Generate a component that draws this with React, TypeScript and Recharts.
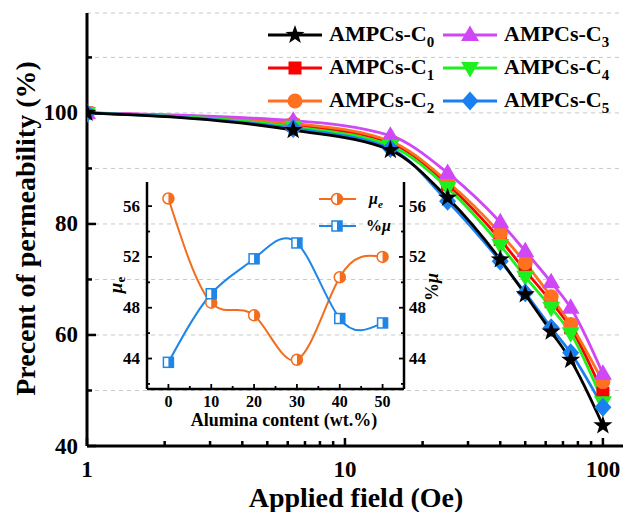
import React from 'react';
import { LineChart, Line, XAxis, YAxis, CartesianGrid } from 'recharts';

// page has an 8px default margin, drop it so the chart sits at 0,0
document.body.style.margin = '0';

const SERIF = '"Liberation Serif", "Times New Roman", serif';

// main chart: permeability vs applied field
const fields = [1, 6.3, 15, 25, 40, 50, 63, 75, 100];
const c0 = [100, 96.9, 93.3, 84.7, 73.6, 67.3, 60.6, 55.5, 43.7];
const c1 = [100, 97.8, 94.6, 87.1, 77.2, 71.6, 66.0, 61.3, 49.5];
const c2 = [100, 98.1, 94.9, 87.6, 78.3, 73.0, 66.9, 61.9, 51.6];
const c3 = [100, 98.6, 95.9, 89.2, 80.3, 75.1, 69.5, 64.9, 53.0];
const c4 = [100, 97.5, 94.1, 86.5, 76.2, 70.5, 64.9, 60.3, 47.9];
const c5 = [100, 97.2, 93.6, 84.1, 73.3, 67.6, 61.3, 56.8, 47.0];

const xTicks = [1, 2, 3, 4, 5, 6, 7, 8, 9, 10, 20, 30, 40, 50, 60, 70, 80, 90, 100];
const xMajor = [1, 10, 100];
const yTicks = [40, 50, 60, 70, 80, 90, 100, 110];
const yMajor = [40, 60, 80, 100];

// inset: mu_e and %mu vs alumina content
const alumina = [0, 10, 20, 30, 40, 50];
const muE = [56.6, 48.4, 47.4, 43.9, 50.4, 52.0];
const pctMu = [43.7, 49.1, 51.85, 53.1, 47.15, 46.8];
const insetXTicks = [0, 5, 10, 15, 20, 25, 30, 35, 40, 45, 50];
const insetYTicks = [42, 44, 46, 48, 50, 52, 54, 56];
const insetYMajor = [44, 48, 52, 56];

const series = [
  { key: 'c0', sub: '0', color: '#000000', shape: 'star', values: c0 },
  { key: 'c1', sub: '1', color: '#ff0000', shape: 'square', values: c1 },
  { key: 'c2', sub: '2', color: '#ff7020', shape: 'circle', values: c2 },
  { key: 'c3', sub: '3', color: '#d047f5', shape: 'triUp', values: c3 },
  { key: 'c4', sub: '4', color: '#1ef01e', shape: 'triDown', values: c4 },
  { key: 'c5', sub: '5', color: '#1a80f0', shape: 'diamond', values: c5 },
];

const mainRows = fields.map((f, i) => {
  const row: any = { f };
  series.forEach((s) => (row[s.key] = s.values[i]));
  return row;
});

const insetRows = alumina.map((a, i) => ({ a, muE: muE[i], pctMu: pctMu[i] }));

const ORANGE = '#f26d1d';
const BLUE = '#1f86e6';

function Marker({ shape, cx, cy, color }: any) {
  switch (shape) {
    case 'star': {
      const pts: string[] = [];
      for (let i = 0; i < 10; i++) {
        const r = i % 2 === 0 ? 10 : 4;
        const a = -Math.PI / 2 + (i * Math.PI) / 5;
        pts.push(`${cx + r * Math.cos(a)},${cy + r * Math.sin(a)}`);
      }
      return <polygon points={pts.join(' ')} fill={color} />;
    }
    case 'square':
      return <rect x={cx - 6.5} y={cy - 6.5} width={13} height={13} fill={color} />;
    case 'circle':
      return <circle cx={cx} cy={cy} r={7.5} fill={color} />;
    case 'triUp':
      return <polygon points={`${cx},${cy - 9.5} ${cx + 9},${cy + 6} ${cx - 9},${cy + 6}`} fill={color} />;
    case 'triDown':
      return <polygon points={`${cx},${cy + 9.5} ${cx + 9},${cy - 6} ${cx - 9},${cy - 6}`} fill={color} />;
    case 'diamond':
      return <polygon points={`${cx},${cy - 9.5} ${cx + 8.5},${cy} ${cx},${cy + 9.5} ${cx - 8.5},${cy}`} fill={color} />;
    case 'halfCircle':
      return (
        <g>
          <circle cx={cx} cy={cy} r={5.5} fill="#fff" stroke={color} strokeWidth={1.5} />
          <path d={`M${cx},${cy - 5.5} A5.5,5.5 0 0 1 ${cx},${cy + 5.5} Z`} fill={color} />
        </g>
      );
    case 'halfSquare':
      return (
        <g>
          <rect x={cx - 5} y={cy - 5} width={10} height={10} fill="#fff" stroke={color} strokeWidth={1.5} />
          <rect x={cx} y={cy - 5} width={5} height={10} fill={color} />
        </g>
      );
    default:
      return null;
  }
}

const MainXTick = ({ x, y, payload }: any) => {
  const major = xMajor.includes(payload.value);
  return (
    <g>
      <line x1={x} x2={x} y1={y} y2={y - (major ? 8 : 5)} stroke="#000" strokeWidth={2.5} />
      {major && (
        <text x={x} y={y + 23} textAnchor="middle" dominantBaseline="central" fontFamily={SERIF} fontWeight="bold" fontSize={23} fill="#000">
          {payload.value}
        </text>
      )}
    </g>
  );
};

const MainYTick = ({ x, y, payload }: any) => {
  const major = yMajor.includes(payload.value);
  return (
    <g>
      <line x1={x} x2={x + (major ? 9 : 5)} y1={y} y2={y} stroke="#000" strokeWidth={2.5} />
      {major && (
        <text x={x - 9} y={y} textAnchor="end" dominantBaseline="central" fontFamily={SERIF} fontWeight="bold" fontSize={23} fill="#000">
          {payload.value}
        </text>
      )}
    </g>
  );
};

const InsetXTick = ({ x, y, payload }: any) => {
  const major = payload.value % 10 === 0;
  return (
    <g>
      <line x1={x} x2={x} y1={y} y2={y - (major ? 5 : 3)} stroke="#000" strokeWidth={1.8} />
      {major && (
        <text x={x} y={y + 12} textAnchor="middle" dominantBaseline="central" fontFamily={SERIF} fontWeight="bold" fontSize={16} fill="#000">
          {payload.value}
        </text>
      )}
    </g>
  );
};

const InsetYTick = ({ x, y, payload, side }: any) => {
  const major = insetYMajor.includes(payload.value);
  const dir = side === 'left' ? 1 : -1;
  return (
    <g>
      <line x1={x} x2={x + dir * (major ? 5 : 3)} y1={y} y2={y} stroke="#000" strokeWidth={1.8} />
      {major && (
        <text
          x={side === 'left' ? x - 7 : x + 5}
          y={y}
          textAnchor={side === 'left' ? 'end' : 'start'}
          dominantBaseline="central"
          fontFamily={SERIF}
          fontWeight="bold"
          fontSize={17}
          fill="#000"
        >
          {payload.value}
        </text>
      )}
    </g>
  );
};

const LegendItem = ({ s, left, top }: any) => (
  <div style={{ position: 'absolute', left, top: top - 14, height: 28, display: 'flex', alignItems: 'center' }}>
    <svg width={56} height={28} style={{ display: 'block' }}>
      <line x1={1} x2={55} y1={14} y2={14} stroke={s.color} strokeWidth={3} />
      <Marker shape={s.shape} cx={28} cy={14} color={s.color} />
    </svg>
    <span style={{ marginLeft: 6, fontFamily: SERIF, fontWeight: 'bold', fontSize: 22, lineHeight: '28px', whiteSpace: 'nowrap' }}>
      AMPCs-C<span style={{ fontSize: 15, position: 'relative', top: 6 }}>{s.sub}</span>
    </span>
  </div>
);

export default function App() {
  const legendPos = [
    { left: 267, top: 35 },
    { left: 267, top: 68 },
    { left: 267, top: 101 },
    { left: 442, top: 35 },
    { left: 442, top: 68 },
    { left: 442, top: 101 },
  ];
  // draw C0 last so the black curve stays on top
  const drawOrder = [1, 2, 3, 4, 5, 0];

  return (
    <div style={{ position: 'relative', width: 623, height: 512, overflow: 'hidden', background: '#fff' }}>
      <LineChart width={630} height={512} data={mainRows} margin={{ top: 13, right: 3, bottom: 0, left: 0 }}>
        <CartesianGrid vertical={false} stroke="#c8c8c8" strokeDasharray="4 4" />
        <XAxis
          dataKey="f"
          type="number"
          scale="log"
          domain={[1, 124]}
          allowDataOverflow
          ticks={xTicks}
          interval={0}
          tickSize={0}
          tickMargin={0}
          tickLine={false}
          tick={<MainXTick />}
          height={66}
          axisLine={{ stroke: '#000', strokeWidth: 3 }}
          label={({ viewBox }: any) => (
            <text x={viewBox.x + 269} y={viewBox.y + 51} textAnchor="middle" dominantBaseline="central" fontFamily={SERIF} fontWeight="bold" fontSize={28} fill="#000">
              Applied field (Oe)
            </text>
          )}
        />
        <XAxis xAxisId="top" orientation="top" type="number" domain={[1, 124]} height={0} tick={false} tickLine={false} axisLine={{ stroke: '#000', strokeWidth: 3 }} />
        <YAxis
          type="number"
          domain={[40, 118]}
          allowDataOverflow
          ticks={yTicks}
          interval={0}
          tickSize={0}
          tickMargin={0}
          tickLine={false}
          tick={<MainYTick />}
          width={87}
          axisLine={{ stroke: '#000', strokeWidth: 3 }}
          label={({ viewBox }: any) => {
            const cx = 25;
            const cy = viewBox.y + viewBox.height / 2 - 1;
            return (
              <text x={cx} y={cy} transform={`rotate(-90, ${cx}, ${cy})`} textAnchor="middle" dominantBaseline="central" fontFamily={SERIF} fontWeight="bold" fontSize={28} fill="#000">
                Precent of permeability (%)
              </text>
            );
          }}
        />
        {drawOrder.map((i) => {
          const s = series[i];
          return (
            <Line
              key={s.key}
              dataKey={s.key}
              type="monotone"
              stroke={s.color}
              strokeWidth={2.8}
              isAnimationActive={false}
              dot={(p: any) => <Marker key={`${s.key}-${p.index}`} shape={s.shape} cx={p.cx} cy={p.cy} color={s.color} />}
              activeDot={false}
            />
          );
        })}
      </LineChart>

      {series.map((s, i) => (
        <LegendItem key={s.key} s={s} left={legendPos[i].left} top={legendPos[i].top} />
      ))}

      {/* inset */}
      <div style={{ position: 'absolute', left: 95, top: 175 }}>
        <LineChart width={365} height={255} data={insetRows} margin={{ top: 7, right: 0, bottom: 0, left: 0 }}>
          <XAxis
            dataKey="a"
            type="number"
            domain={[-5, 55]}
            ticks={insetXTicks}
            interval={0}
            tickSize={0}
            tickMargin={0}
            tickLine={false}
            tick={<InsetXTick />}
            height={41}
            axisLine={{ stroke: '#000', strokeWidth: 2.5 }}
            label={({ viewBox }: any) => (
              <text x={viewBox.x + 137} y={viewBox.y + 31} textAnchor="middle" dominantBaseline="central" fontFamily={SERIF} fontWeight="bold" fontSize={18} fill="#000">
                Alumina content (wt.%)
              </text>
            )}
          />
          <XAxis xAxisId="top" orientation="top" type="number" domain={[-5, 55]} height={0} tick={false} tickLine={false} axisLine={{ stroke: '#000', strokeWidth: 2.5 }} />
          <YAxis
            yAxisId="left"
            type="number"
            domain={[41.6, 57.9]}
            allowDataOverflow
            ticks={insetYTicks}
            interval={0}
            tickSize={0}
            tickMargin={0}
            tickLine={false}
            tick={<InsetYTick side="left" />}
            width={52}
            axisLine={{ stroke: '#000', strokeWidth: 2.5 }}
            label={({ viewBox }: any) => {
              const cx = 20;
              const cy = viewBox.y + 103;
              return (
                <text x={cx} y={cy} transform={`rotate(-90, ${cx}, ${cy})`} textAnchor="middle" dominantBaseline="central" fontFamily={SERIF} fontWeight="bold" fontSize={19} fill="#000">
                  <tspan fontStyle="italic">μ</tspan>
                  <tspan fontSize={13} dy={5}>e</tspan>
                </text>
              );
            }}
          />
          <YAxis
            yAxisId="right"
            orientation="right"
            type="number"
            domain={[41.6, 57.9]}
            allowDataOverflow
            ticks={insetYTicks}
            interval={0}
            tickSize={0}
            tickMargin={0}
            tickLine={false}
            tick={<InsetYTick side="right" />}
            width={56}
            axisLine={{ stroke: '#000', strokeWidth: 2.5 }}
            label={({ viewBox }: any) => {
              const cx = viewBox.x + 28;
              const cy = viewBox.y + 105;
              return (
                <text x={cx} y={cy} transform={`rotate(-90, ${cx}, ${cy})`} textAnchor="middle" dominantBaseline="central" fontFamily={SERIF} fontWeight="bold" fontSize={18} fill="#000">
                  %<tspan fontStyle="italic">μ</tspan>
                </text>
              );
            }}
          />
          <Line
            yAxisId="left"
            dataKey="muE"
            type="natural"
            stroke={ORANGE}
            strokeWidth={2}
            isAnimationActive={false}
            dot={(p: any) => <Marker key={`mu-${p.index}`} shape="halfCircle" cx={p.cx} cy={p.cy} color={ORANGE} />}
            activeDot={false}
          />
          <Line
            yAxisId="right"
            dataKey="pctMu"
            type="natural"
            stroke={BLUE}
            strokeWidth={2}
            isAnimationActive={false}
            dot={(p: any) => <Marker key={`pm-${p.index}`} shape="halfSquare" cx={p.cx} cy={p.cy} color={BLUE} />}
            activeDot={false}
          />
        </LineChart>
      </div>

      {/* inset legend */}
      <div style={{ position: 'absolute', left: 318, top: 187, height: 24, display: 'flex', alignItems: 'center' }}>
        <svg width={40} height={24} style={{ display: 'block' }}>
          <line x1={1} x2={38} y1={12} y2={12} stroke={ORANGE} strokeWidth={2} />
          <Marker shape="halfCircle" cx={19} cy={12} color={ORANGE} />
        </svg>
        <span style={{ marginLeft: 11, fontFamily: SERIF, fontWeight: 'bold', fontStyle: 'italic', fontSize: 16 }}>
          μ<span style={{ fontSize: 11, position: 'relative', top: 4 }}>e</span>
        </span>
      </div>
      <div style={{ position: 'absolute', left: 318, top: 214, height: 24, display: 'flex', alignItems: 'center' }}>
        <svg width={40} height={24} style={{ display: 'block' }}>
          <line x1={1} x2={38} y1={12} y2={12} stroke={BLUE} strokeWidth={2} />
          <Marker shape="halfSquare" cx={19} cy={12} color={BLUE} />
        </svg>
        <span style={{ marginLeft: 8, fontFamily: SERIF, fontWeight: 'bold', fontSize: 16 }}>
          %<i>μ</i>
        </span>
      </div>
    </div>
  );
}
